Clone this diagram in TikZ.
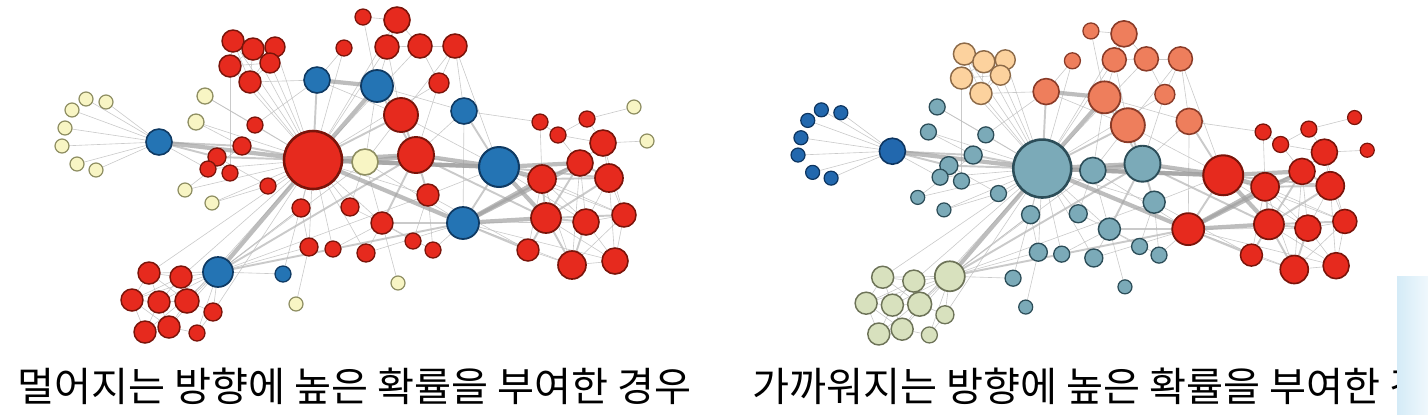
\documentclass[tikz,border=0pt]{standalone}
\usepackage{fontspec}
\newfontfamily\krfont{Noto Sans CJK KR}
\usepackage{tikz}
\usetikzlibrary{backgrounds}
\definecolor{redfill}{HTML}{E62A1E}
\definecolor{redline}{HTML}{7A140A}
\definecolor{bluefill}{HTML}{2474B4}
\definecolor{blueline}{HTML}{0F3A63}
\definecolor{yelfill}{HTML}{F8F5C4}
\definecolor{yelline}{HTML}{8E8E62}
\definecolor{dbluefill}{HTML}{2268AE}
\definecolor{dblueline}{HTML}{0D3560}
\definecolor{peachfill}{HTML}{FCD29E}
\definecolor{peachline}{HTML}{8C6A48}
\definecolor{salmfill}{HTML}{EE7E5C}
\definecolor{salmline}{HTML}{8A3B28}
\definecolor{tealfill}{HTML}{7BAAB8}
\definecolor{tealline}{HTML}{2C4D58}
\definecolor{sagefill}{HTML}{D8E1BE}
\definecolor{sageline}{HTML}{6D7358}
\definecolor{edgegray}{HTML}{BDBDBD}
\definecolor{barblue}{HTML}{D4EBF7}
\tikzset{
  % noder
  nd/.style={circle,inner sep=0pt,outer sep=0pt},
  nred/.style={fill=redfill,draw=redline},
  nblue/.style={fill=bluefill,draw=blueline},
  nyel/.style={fill=yelfill,draw=yelline},
  ndblue/.style={fill=dbluefill,draw=dblueline},
  npeach/.style={fill=peachfill,draw=peachline},
  nsalm/.style={fill=salmfill,draw=salmline},
  nteal/.style={fill=tealfill,draw=tealline},
  nsage/.style={fill=sagefill,draw=sageline},
  % kanter
  ethin/.style={draw=edgegray,line width=0.35pt,opacity=0.8},
  emid/.style={draw=edgegray,line width=1.1pt,opacity=0.8},
  ethick/.style={draw=edgegray!85!black,line width=2.4pt,opacity=0.7},
  captext/.style={font=\krfont\fontsize{22.9}{26}\selectfont,anchor=west,inner sep=0pt},
}
% i/x/y/r/left/right
\newcommand\nodelist{1/159/142/13/nblue/ndblue, 2/86/99/7/nyel/ndblue,
  3/106/102/7/nyel/ndblue, 4/72/110/7/nyel/ndblue, 5/65/128/7/nyel/ndblue,
  6/62/146/7/nyel/ndblue, 7/77/164/7/nyel/ndblue, 8/96/170/7/nyel/ndblue,
  9/233/41/11/nred/npeach, 10/253/49/11/nred/npeach, 11/275/47/10/nred/npeach,
  12/230/66/11/nred/npeach, 13/270/63/10/nred/npeach, 14/250/82/11/nred/npeach,
  15/363/17/8/nred/nsalm, 16/344/48/8/nred/nsalm, 17/397/20/13/nred/nsalm,
  18/387/47/12/nred/nsalm, 19/420/46/12/nred/nsalm, 20/455/46/12/nred/nsalm,
  21/317/80/13/nblue/nsalm, 22/377/86/16/nblue/nsalm, 23/439/83/10/nred/nsalm,
  24/401/115/17/nred/nsalm, 25/464/111/13/nblue/nsalm,
  26/205/96/8/nyel/nteal, 27/196/122/8/nyel/nteal, 28/255/125/8/nred/nteal,
  29/242/146/9/nred/nteal, 30/217/157/9/nred/nteal, 31/208/169/8/nred/nteal,
  32/230/173/8/nred/nteal, 33/313/160/29/nred/nteal, 34/365/162/13/nyel/nteal,
  35/416/155/18/nred/nteal, 36/185/190/7/nyel/nteal, 37/212/203/7/nyel/nteal,
  38/268/186/8/nred/nteal, 39/428/195/11/nred/nteal, 40/301/208/9/nred/nteal,
  41/350/207/9/nred/nteal, 42/382/223/11/nred/nteal, 43/309/247/9/nred/nteal,
  44/333/249/8/nred/nteal, 45/366/253/9/nred/nteal, 46/413/241/8/nred/nteal,
  47/433/250/8/nred/nteal, 48/398/283/7/nyel/nteal, 49/283/274/8/nblue/nteal,
  50/296/304/7/nyel/nteal,
  51/218/272/15/nblue/nsage, 52/149/273/11/nred/nsage, 53/181/277/11/nred/nsage,
  54/132/300/11/nred/nsage, 55/159/302/11/nred/nsage, 56/187/301/12/nred/nsage,
  57/213/312/9/nred/nsage, 58/145/332/11/nred/nsage, 59/169/327/11/nred/nsage,
  60/197/333/8/nred/nsage,
  61/499/167/20/nblue/nred, 62/463/223/16/nblue/nred, 63/540/122/8/nred/nred,
  64/558/135/8/nred/nred, 65/587/119/8/nred/nred, 66/634/107/7/nyel/nred,
  67/647/141/7/nyel/nred, 68/603/143/13/nred/nred, 69/542/179/14/nred/nred,
  70/580/163/13/nred/nred, 71/609/178/14/nred/nred, 72/546/218/15/nred/nred,
  73/586/222/13/nred/nred, 74/624/215/12/nred/nred, 75/528/250/11/nred/nred,
  76/572/265/14/nred/nred, 77/615/261/13/nred/nred}
\newcommand\thinlist{1/2,1/3,1/4,1/5,1/6,1/7,1/8,1/31,30/31,31/33,30/32,
  9/10,9/11,9/12,9/13,9/14,10/11,10/12,10/13,10/14,11/13,11/14,12/13,12/14,13/14,
  9/33,10/33,11/33,12/33,13/33,14/33,12/32,14/21,
  15/17,16/21,16/33,15/22,17/18,17/19,17/22,17/33,18/19,18/24,18/33,19/20,19/23,
  19/33,20/23,20/25,20/24,20/61,22/25,23/33,23/35,21/24,22/34,24/61,24/34,25/35,
  25/62,25/63,
  26/33,26/28,27/33,27/29,28/33,28/21,36/33,37/33,36/29,37/38,38/33,38/30,39/33,
  39/61,40/33,41/33,42/33,43/33,43/40,44/33,45/33,45/42,46/42,46/39,47/39,47/42,
  48/42,49/51,49/33,50/43,40/51,41/42,44/42,34/42,34/62,41/34,45/62,47/62,
  52/53,52/54,52/55,52/56,53/55,53/56,53/54,54/55,54/58,54/59,55/56,55/58,55/59,
  56/59,56/57,58/59,59/60,57/60,
  51/52,51/53,51/54,51/55,51/56,51/57,51/58,51/59,51/60,
  51/34,51/39,56/33,53/33,57/33,52/33,51/43,51/40,
  63/64,63/69,64/65,64/68,64/70,65/66,65/68,67/68,68/70,68/71,69/73,69/74,70/73,
  71/73,71/74,72/77,73/74,73/77,74/76,74/77,75/76,76/77,69/76,70/76,71/77,75/69,
  62/77,61/74,68/74,61/73,62/73,35/69,39/75,62/76}
\newcommand\midlist{1/30,30/33,29/33,21/33,22/24,24/33,24/35,22/35,39/35,42/35,
  42/62,51/35,51/62,61/62,61/71,62/75,69/72,70/72,71/72,72/73,72/74,72/75,72/76,
  73/76,69/71,70/71,69/70,35/72,25/61,1/29}
\newcommand\thicklist{1/33,21/22,22/33,34/33,35/33,34/35,35/61,34/61,33/62,
  33/61,51/33,61/69,61/70,61/72,62/72,62/69,62/70}

\begin{document}
\begin{tikzpicture}[x=0.02cm,y=-0.02cm]
\clip (0,0) rectangle (1428,414);
% venstre graf
\foreach \i/\x/\y/\r/\cl/\cr in \nodelist
  \node[nd,\cl,minimum size=\r*0.04cm,line width=0.45pt+\r*0.035pt] (L\i) at (\x,\y) {};
% hoyre graf
\begin{scope}[shift={(737.7,14.6)},xscale=0.973,yscale=0.962]
\foreach \i/\x/\y/\r/\cl/\cr in \nodelist
  \node[nd,\cr,minimum size=\r*0.04cm,line width=0.45pt+\r*0.035pt] (R\i) at (\x,\y) {};
\end{scope}
\begin{scope}[on background layer]
\foreach \g in {L,R}{
  \foreach \a/\b in \thinlist \draw[ethin] (\g\a) -- (\g\b);
  \foreach \a/\b in \midlist \draw[emid] (\g\a) -- (\g\b);
  \foreach \a/\b in \thicklist \draw[ethick] (\g\a) -- (\g\b);
}
\end{scope}
\node[captext] (capL) at (17,386) {멀어지는 방향에 높은 확률을 부여한 경우};
\node[captext] (capR) at (752,386) {가까워지는 방향에 높은 확률을 부여한 경우};
\shade[left color=barblue,right color=barblue!35] (1397,276) rectangle (1428,414);
\end{tikzpicture}
\end{document}
